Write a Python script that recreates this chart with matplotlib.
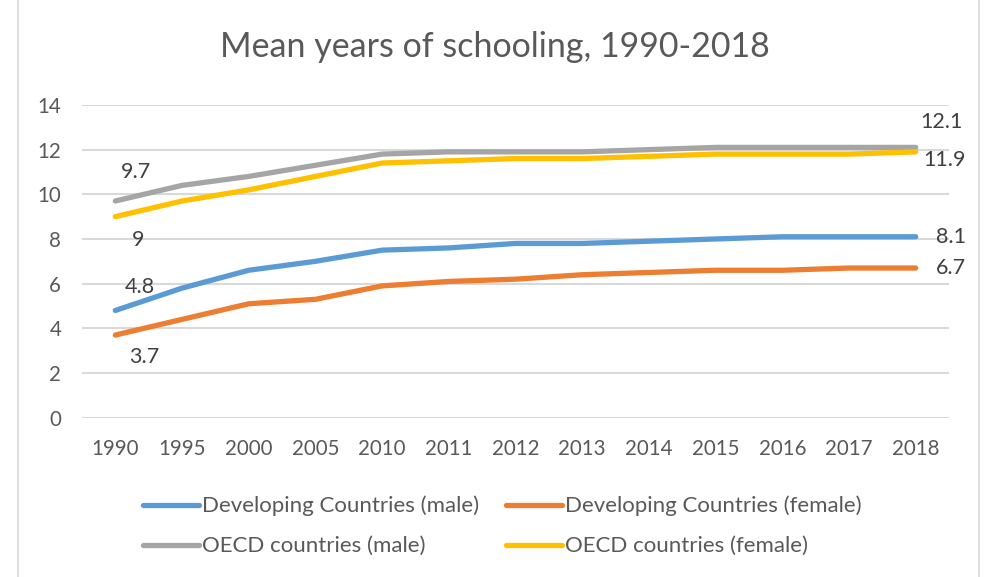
import matplotlib
matplotlib.use("Agg")
import matplotlib.pyplot as plt
from matplotlib.lines import Line2D

plt.rcParams["font.family"] = ["Lato", "DejaVu Sans"]

years = ["1990", "1995", "2000", "2005", "2010", "2011", "2012",
         "2013", "2014", "2015", "2016", "2017", "2018"]

dev_male = [4.8, 5.8, 6.6, 7.0, 7.5, 7.6, 7.8, 7.8, 7.9, 8.0, 8.1, 8.1, 8.1]
dev_female = [3.7, 4.4, 5.1, 5.3, 5.9, 6.1, 6.2, 6.4, 6.5, 6.6, 6.6, 6.7, 6.7]
oecd_male = [9.7, 10.4, 10.8, 11.3, 11.8, 11.9, 11.9, 11.9, 12.0, 12.1, 12.1, 12.1, 12.1]
oecd_female = [9.0, 9.7, 10.2, 10.8, 11.4, 11.5, 11.6, 11.6, 11.7, 11.8, 11.8, 11.8, 11.9]

series = [
    ("Developing Countries (male)", dev_male, "#5B9BD5"),
    ("Developing Countries (female)", dev_female, "#ED7D31"),
    ("OECD countries (male)", oecd_male, "#A5A5A5"),
    ("OECD countries (female)", oecd_female, "#FFC000"),
]

fig = plt.figure(figsize=(9.89, 5.77), dpi=100)
ax = fig.add_axes([0.0829, 0.2761, 0.8767, 0.542])

x = list(range(len(years)))
lines = []
for name, vals, col in series:
    ln, = ax.plot(x, vals, color=col, lw=3.8, solid_capstyle="round", label=name, zorder=3)
    lines.append(ln)

ax.set_xlim(-0.5, len(years) - 0.5)
ax.set_ylim(0, 14)
ax.set_yticks(range(0, 15, 2))
ax.set_xticks(x)
ax.set_xticklabels(years)
ax.tick_params(length=0, labelsize=14.8, colors="#595959")
ax.tick_params(axis="x", pad=15)
ax.tick_params(axis="y", pad=15)
ax.grid(axis="y", color="#D9D9D9", lw=1.5)
ax.set_axisbelow(True)
for s in ax.spines.values():
    s.set_visible(False)

# data labels (first and last points)
lab = dict(textcoords="offset pixels", ha="center", va="center", fontsize=15.5, color="#404040")
ax.annotate("9.7", (0, oecd_male[0]), xytext=(21, 29), **lab)
ax.annotate("9", (0, oecd_female[0]), xytext=(23, -23), **lab)
ax.annotate("4.8", (0, dev_male[0]), xytext=(24, 23), **lab)
ax.annotate("3.7", (0, dev_female[0]), xytext=(29, -22), **lab)
ax.annotate("12.1", (12, oecd_male[-1]), xytext=(26, 25), **lab)
ax.annotate("11.9", (12, oecd_female[-1]), xytext=(29, -8), **lab)
ax.annotate("8.1", (12, dev_male[-1]), xytext=(35, 0), **lab)
ax.annotate("6.7", (12, dev_female[-1]), xytext=(35, 0), **lab)

fig.text(0.5, 0.9185, "Mean years of schooling, 1990-2018", ha="center", va="center",
         fontsize=24.5, color="#595959")

# row-wise legend order
order = [0, 2, 1, 3]
fig.legend(handles=[lines[i] for i in order], loc="center", bbox_to_anchor=(0.508, 0.0884),
           ncol=2, frameon=False, fontsize=16, labelcolor="#595959", handlelength=2.5,
           handletextpad=0.15, columnspacing=1.2, labelspacing=0.9)

# chart border
fig.add_artist(Line2D([18 / 989, 18 / 989], [0, 1], color="#D9D9D9", lw=1.2))
fig.add_artist(Line2D([979 / 989, 979 / 989], [0, 1], color="#D9D9D9", lw=1.2))

fig.savefig("out.png", dpi=100)
